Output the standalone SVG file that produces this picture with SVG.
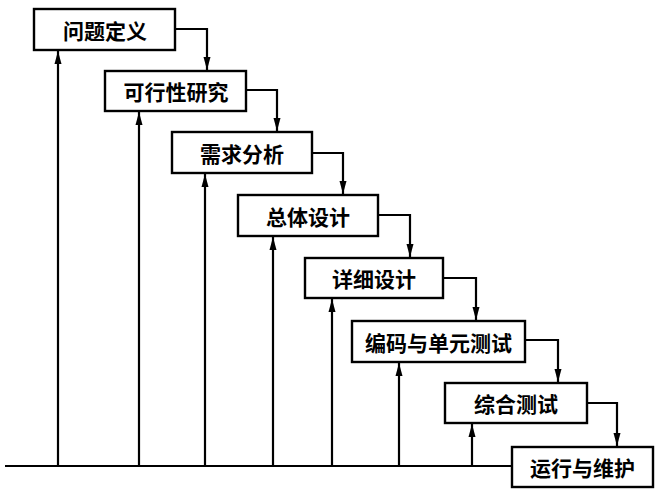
<svg xmlns="http://www.w3.org/2000/svg" width="656" height="490" viewBox="0 0 656 490">
<style>
.box{fill:#fff;stroke:#000;stroke-width:2.4}
.lbl{font-family:"Noto Sans CJK SC","Noto Sans",sans-serif;font-weight:bold;font-size:21px;fill:#000;text-anchor:middle;dominant-baseline:central}
.ln{fill:none;stroke:#000;stroke-width:2.2}
</style>
<defs>
<marker id="ah" markerUnits="userSpaceOnUse" markerWidth="14" markerHeight="8" refX="13" refY="4" orient="auto">
<path d="M0,0.5 L13,4 L0,7.5 z" fill="#000"/>
</marker>
</defs>
<rect width="656" height="490" fill="#fff"/>
<g id="connectors">
<path class="ln" d="M5,466 H512"/>
<path class="ln" d="M175,29 H207 V70" marker-end="url(#ah)"/>
<path class="ln" d="M246,90 H277 V131" marker-end="url(#ah)"/>
<path class="ln" d="M312,153 H343 V194" marker-end="url(#ah)"/>
<path class="ln" d="M378,215 H410 V257" marker-end="url(#ah)"/>
<path class="ln" d="M443,278 H476 V320" marker-end="url(#ah)"/>
<path class="ln" d="M525,340 H558 V382" marker-end="url(#ah)"/>
<path class="ln" d="M587,403 H617 V446" marker-end="url(#ah)"/>
<path class="ln" d="M58,466 V51" marker-end="url(#ah)"/>
<path class="ln" d="M139,466 V112" marker-end="url(#ah)"/>
<path class="ln" d="M205,466 V174" marker-end="url(#ah)"/>
<path class="ln" d="M273,466 V237" marker-end="url(#ah)"/>
<path class="ln" d="M332,466 V299" marker-end="url(#ah)"/>
<path class="ln" d="M399,466 V363" marker-end="url(#ah)"/>
<path class="ln" d="M472,466 V424" marker-end="url(#ah)"/>
</g>
<g id="n1"><rect class="box" x="34" y="9" width="141" height="41"/><text class="lbl" x="105" y="29.5">问题定义</text></g>
<g id="n2"><rect class="box" x="105" y="71" width="141" height="40"/><text class="lbl" x="176" y="91">可行性研究</text></g>
<g id="n3"><rect class="box" x="172" y="132" width="140" height="41"/><text class="lbl" x="242" y="152.5">需求分析</text></g>
<g id="n4"><rect class="box" x="238" y="195" width="140" height="41"/><text class="lbl" x="308" y="215.5">总体设计</text></g>
<g id="n5"><rect class="box" x="305" y="258" width="138" height="40"/><text class="lbl" x="374" y="278">详细设计</text></g>
<g id="n6"><rect class="box" x="352" y="321" width="173" height="41"/><text class="lbl" x="438.5" y="341.5">编码与单元测试</text></g>
<g id="n7"><rect class="box" x="445" y="383" width="142" height="40"/><text class="lbl" x="516" y="403">综合测试</text></g>
<g id="n8"><rect class="box" x="512" y="447" width="141" height="40"/><text class="lbl" x="582.5" y="467">运行与维护</text></g>
</svg>
